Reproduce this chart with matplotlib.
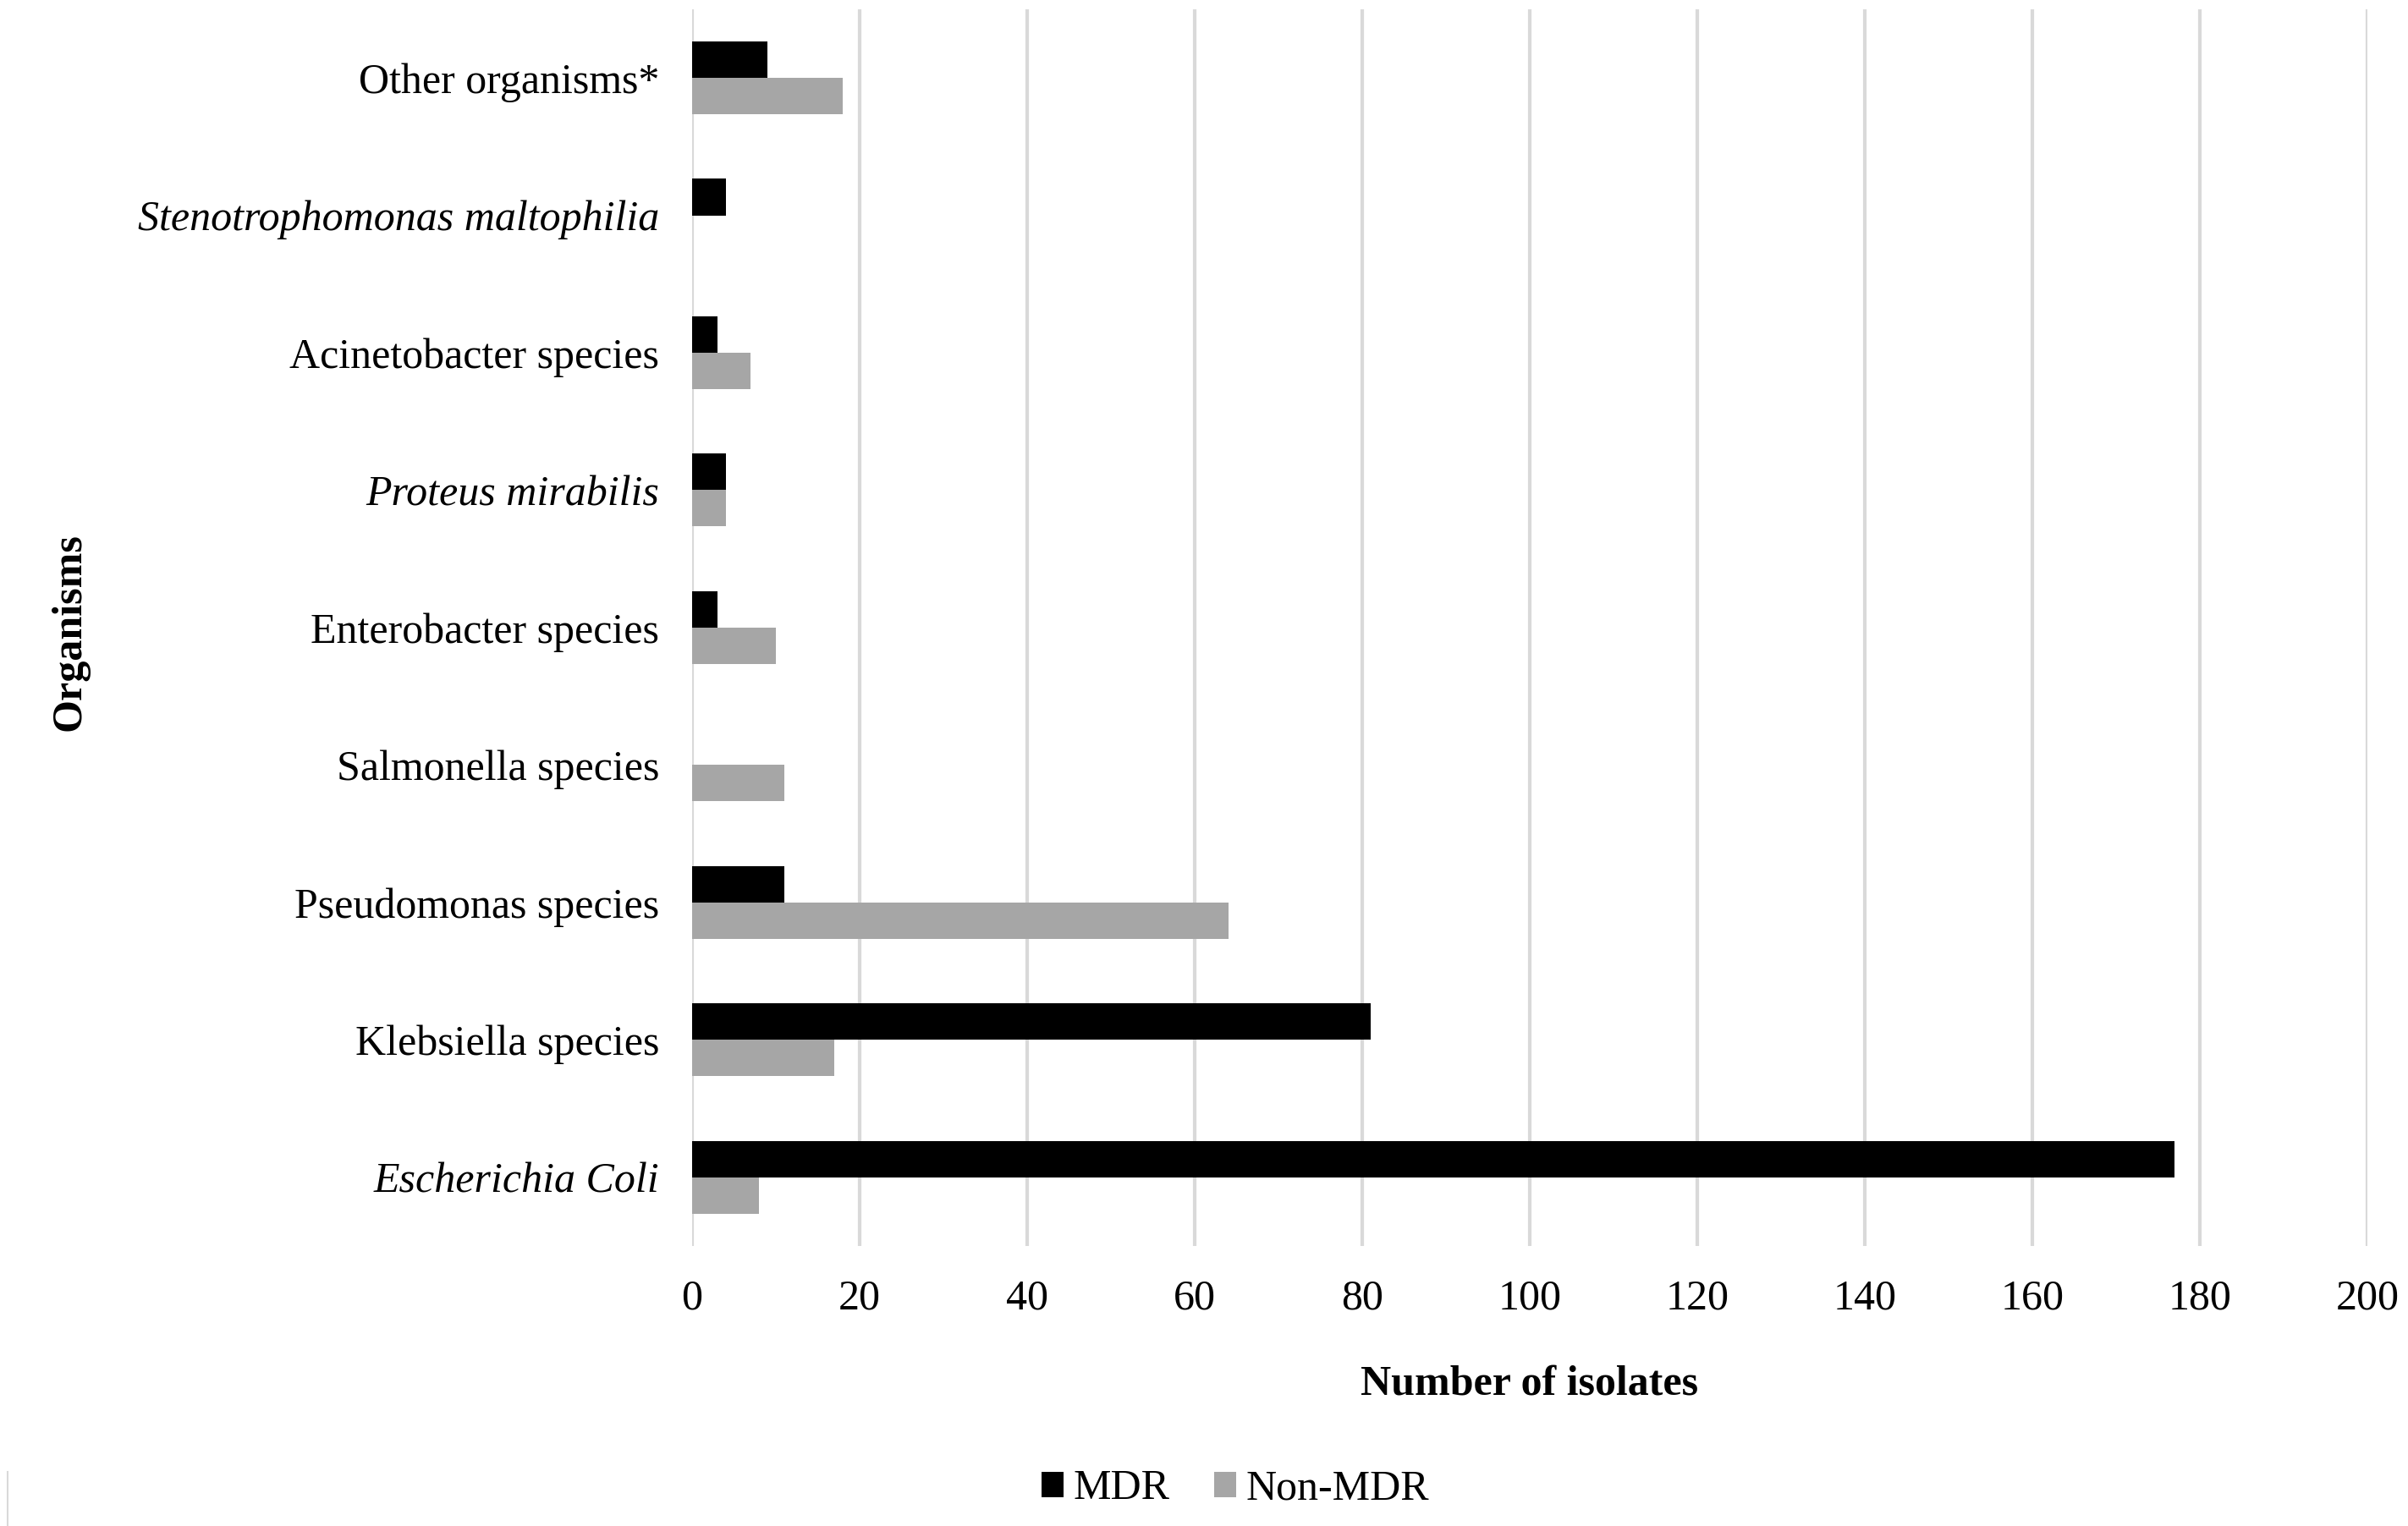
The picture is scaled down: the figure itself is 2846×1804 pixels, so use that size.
import matplotlib
matplotlib.use("Agg")
import matplotlib.pyplot as plt
from matplotlib.lines import Line2D
import numpy as np

categories = ["Escherichia Coli", "Klebsiella species", "Pseudomonas species",
              "Salmonella species", "Enterobacter species", "Proteus mirabilis",
              "Acinetobacter species", "Stenotrophomonas maltophilia", "Other organisms*"]
italic_cats = ["Escherichia Coli", "Proteus mirabilis", "Stenotrophomonas maltophilia"]
mdr = [177, 81, 11, 0, 3, 4, 3, 4, 9]
non_mdr = [8, 17, 64, 11, 10, 4, 7, 0, 18]
xticks = [0, 20, 40, 60, 80, 100, 120, 140, 160, 180, 200]

plt.rcParams['font.family'] = ['Liberation Serif', 'DejaVu Serif']
FS = 36

fig = plt.figure(figsize=(28.46, 18.04), dpi=100)
ax = fig.add_axes([0.2874, 0.1835, 0.9831 - 0.2874, 0.994 - 0.1835])

y = np.arange(len(categories))
h = 0.265
ax.barh(y + h / 2, mdr, height=h, color="#000000", label="MDR", zorder=3)
ax.barh(y - h / 2, non_mdr, height=h, color="#a6a6a6", label="Non-MDR", zorder=3)

ax.set_xlim(0, 200)
ax.set_ylim(-0.5, len(categories) - 0.5)
ax.set_xticks(xticks)
ax.set_xticklabels([str(t) for t in xticks], fontsize=FS)
ax.set_yticks(y)
ax.set_yticklabels(categories, fontsize=FS)
for lbl in ax.get_yticklabels():
    if lbl.get_text() in italic_cats:
        lbl.set_fontstyle("italic")

ax.grid(axis="x", color="#d9d9d9", linewidth=3, zorder=0)
ax.grid(axis="y", visible=False)
for s in ax.spines.values():
    s.set_visible(False)
ax.tick_params(axis="both", length=0)
ax.tick_params(axis="x", pad=28)
ax.tick_params(axis="y", pad=28)

ax.set_xlabel("Number of isolates", fontsize=FS, fontweight="bold", labelpad=40)
fig.text(82 / 2846, 1 - 747 / 1804, "Organisms", rotation=90, fontsize=FS,
         fontweight="bold", ha="center", va="center")

leg = fig.legend(loc="center", bbox_to_anchor=(1460 / 2846, 1 - 1760 / 1804), ncol=2,
                 frameon=False, fontsize=FS, handlelength=0.52, handleheight=0.55,
                 handletextpad=0.23, columnspacing=1.05)

fig.add_artist(Line2D([9 / 2846, 9 / 2846], [0, 1 - 1740 / 1804],
                      transform=fig.transFigure, color="#d9d9d9", linewidth=1.5))

fig.savefig("out.png", dpi=100)
